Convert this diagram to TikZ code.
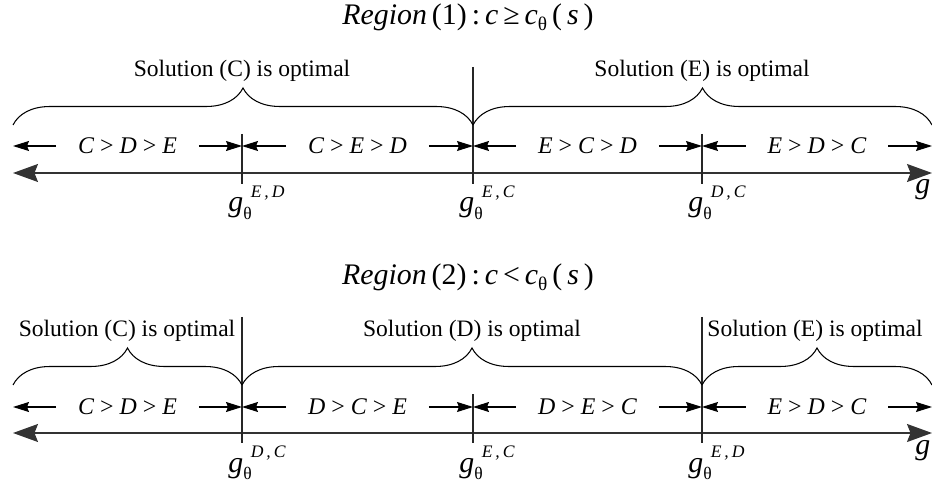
\documentclass[tikz,border=0pt]{standalone}
\usepackage{fontspec}
\setmainfont{Liberation Serif}
\usetikzlibrary{arrows.meta,decorations.pathreplacing}

\newcommand{\gthr}[2]{\textit{g}\raisebox{-0.55ex}{\fontsize{10}{10}\selectfont θ}\hspace{-0.5pt}\raisebox{1.05ex}{\fontsize{10}{10}\selectfont\itshape #1\,,\,#2}}
\newcommand{\ordr}[3]{\textit{#1} > \textit{#2} > \textit{#3}}

\begin{document}
\begin{tikzpicture}[
    x=0.02cm, y=-0.02cm,
    seg/.style={
        minimum width=2.84cm,
        inner sep=0pt,
        text height=8pt,
        text depth=0pt,
        font=\fontsize{13.6}{16}\selectfont
    },
    sarr/.style={
        -{Stealth[length=0.32cm,width=0.2cm,inset=0.04cm]},
        line width=0.6pt
    },
    axisarr/.style={
        {Stealth[length=0.5cm,width=0.36cm,inset=0.07cm]}-{Stealth[length=0.5cm,width=0.36cm,inset=0.07cm]},
        line width=0.7pt,
        black!80
    },
    tickln/.style={line width=0.6pt, black!85},
    brc/.style={
        decorate,
        decoration={brace, amplitude=0.74cm},
        line width=0.6pt
    },
    sol/.style={font=\fontsize{13.4}{16}\selectfont, inner sep=0pt, anchor=base},
    glab/.style={font=\fontsize{17}{18}\selectfont, inner sep=0pt, anchor=base west},
    ttl/.style={font=\fontsize{17}{20}\selectfont, inner sep=0pt, anchor=base}
]
    \useasboundingbox (0,0) rectangle (932,482);

    % ---------- region (1) ----------
    \node[ttl] (title1) at (468,25)
        {\textit{Region}\,(1)\,:\,\textit{c}\,≥\,\textit{c}\raisebox{-0.4ex}{\fontsize{11}{11}\selectfont θ}\,(\,\textit{s}\,)};

    \coordinate (a0) at (13,173);
    \coordinate (a4) at (932,173);
    \draw[axisarr] (a0) -- (a4);
    \node[glab] (gax1) at (915,194) {\textit{g}};

    \coordinate (t1u) at (242,134); \coordinate (t1d) at (242,184);
    \coordinate (t2u) at (473,67);  \coordinate (t2d) at (473,184);
    \coordinate (t3u) at (702,134); \coordinate (t3d) at (702,184);
    \draw[tickln] (t1u) -- (t1d);
    \draw[tickln] (t2u) -- (t2d);
    \draw[tickln] (t3u) -- (t3d);

    \node[glab] (g1) at (228,212) {\gthr{E}{D}};
    \node[glab] (g2) at (459,212) {\gthr{E}{C}};
    \node[glab] (g3) at (688,212) {\gthr{D}{C}};

    \node[seg] (s1) at (127.5,146) {\ordr{C}{D}{E}};
    \node[seg] (s2) at (357.5,146) {\ordr{C}{E}{D}};
    \node[seg] (s3) at (587.5,146) {\ordr{E}{C}{D}};
    \node[seg] (s4) at (817,146)   {\ordr{E}{D}{C}};

    \draw[sarr] (s1.west) -- (s1.west -| a0);
    \draw[sarr] (s1.east) -- (s1.east -| t1u);
    \draw[sarr] (s2.west) -- (s2.west -| t1u);
    \draw[sarr] (s2.east) -- (s2.east -| t2u);
    \draw[sarr] (s3.west) -- (s3.west -| t2u);
    \draw[sarr] (s3.east) -- (s3.east -| t3u);
    \draw[sarr] (s4.west) -- (s4.west -| t3u);
    \draw[sarr] (s4.east) -- (s4.east -| a4);

    \coordinate (b0) at (13,125);
    \coordinate (b1) at (473,125);
    \coordinate (b2) at (932,125);
    \draw[brc] (b0) -- (b1);
    \draw[brc] (b1) -- (b2);

    \node[sol] (sol1) at (242,77) {Solution (C) is optimal};
    \node[sol] (sol2) at (702,77) {Solution (E) is optimal};

    % ---------- region (2) ----------
    \node[ttl] (title2) at (468,285)
        {\textit{Region}\,(2)\,:\,\textit{c}\,<\,\textit{c}\raisebox{-0.4ex}{\fontsize{11}{11}\selectfont θ}\,(\,\textit{s}\,)};

    \coordinate (c0) at (13,433);
    \coordinate (c4) at (932,433);
    \draw[axisarr] (c0) -- (c4);
    \node[glab] (gax2) at (915,454) {\textit{g}};

    \coordinate (u1u) at (242,317); \coordinate (u1d) at (242,443);
    \coordinate (u2u) at (473,394); \coordinate (u2d) at (473,443);
    \coordinate (u3u) at (702,317); \coordinate (u3d) at (702,443);
    \draw[tickln] (u1u) -- (u1d);
    \draw[tickln] (u2u) -- (u2d);
    \draw[tickln] (u3u) -- (u3d);

    \node[glab] (h1) at (228,472) {\gthr{D}{C}};
    \node[glab] (h2) at (459,472) {\gthr{E}{C}};
    \node[glab] (h3) at (688,472) {\gthr{E}{D}};

    \node[seg] (r1) at (127.5,407) {\ordr{C}{D}{E}};
    \node[seg] (r2) at (357.5,407) {\ordr{D}{C}{E}};
    \node[seg] (r3) at (587.5,407) {\ordr{D}{E}{C}};
    \node[seg] (r4) at (817,407)   {\ordr{E}{D}{C}};

    \draw[sarr] (r1.west) -- (r1.west -| c0);
    \draw[sarr] (r1.east) -- (r1.east -| u1u);
    \draw[sarr] (r2.west) -- (r2.west -| u1u);
    \draw[sarr] (r2.east) -- (r2.east -| u2u);
    \draw[sarr] (r3.west) -- (r3.west -| u2u);
    \draw[sarr] (r3.east) -- (r3.east -| u3u);
    \draw[sarr] (r4.west) -- (r4.west -| u3u);
    \draw[sarr] (r4.east) -- (r4.east -| c4);

    \coordinate (d0) at (13,385);
    \coordinate (d1) at (242,385);
    \coordinate (d2) at (702,385);
    \coordinate (d3) at (932,385);
    \draw[brc] (d0) -- (d1);
    \draw[brc] (d1) -- (d2);
    \draw[brc] (d2) -- (d3);

    \node[sol] (sol3) at (127,337) {Solution (C) is optimal};
    \node[sol] (sol4) at (472,337) {Solution (D) is optimal};
    \node[sol] (sol5) at (815,337) {Solution (E) is optimal};

\end{tikzpicture}
\end{document}
